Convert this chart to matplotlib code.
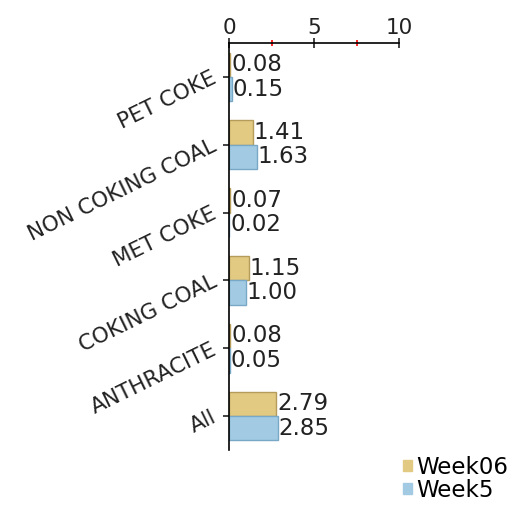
import numpy as np
import matplotlib.pyplot as plt
from matplotlib.patches import Patch

categories = ["PET COKE", "NON COKING COAL", "MET COKE", "COKING COAL", "ANTHRACITE", "All"]
week06 = [0.08, 1.41, 0.07, 1.15, 0.08, 2.79]
week5 = [0.15, 1.63, 0.02, 1.00, 0.05, 2.85]
series_names = ["Week06", "Week5"]

gold = "#E2CA82"
gold_edge = "#B59C5A"
blue = "#A2CBE3"
blue_edge = "#78A8C6"

fig = plt.figure(figsize=(5.17, 5.13), dpi=100)
ax = fig.add_axes([0.443, 0.123, 0.329, 0.793])

y = np.arange(len(categories))
h = 0.36
ax.barh(y - h / 2, week06, height=h, color=gold, edgecolor=gold_edge, linewidth=1)
ax.barh(y + h / 2, week5, height=h, color=blue, edgecolor=blue_edge, linewidth=1)

# value labels next to the bar ends
for i in range(len(categories)):
    ax.text(week06[i] + 0.05, y[i] - h / 2, f"{week06[i]:.2f}", va="center", ha="left",
            fontsize=16.5, color="#222222")
    ax.text(week5[i] + 0.05, y[i] + h / 2, f"{week5[i]:.2f}", va="center", ha="left",
            fontsize=16.5, color="#222222")

ax.set_xlim(0, 10)
ax.set_ylim(len(categories) - 0.5, -0.5)

ax.xaxis.tick_top()
ax.set_xticks([0, 5, 10])
ax.set_xticklabels(["0", "5", "10"], fontsize=15.5)
ax.set_xticks([2.5, 7.5], minor=True)
ax.tick_params(axis="x", which="major", direction="inout", length=7, width=1.2, pad=0, colors="#222222")
ax.tick_params(axis="x", which="minor", direction="inout", length=5, width=1.2, color="red")

ax.set_yticks(y)
ax.set_yticklabels(categories, rotation=26, fontsize=15.5, ha="right", va="center",
                   rotation_mode="anchor")
ax.tick_params(axis="y", direction="out", length=4, width=1.2, colors="#222222", pad=6)

for s in ["right", "bottom"]:
    ax.spines[s].set_visible(False)
ax.spines["top"].set_linewidth(1.2)
ax.spines["left"].set_linewidth(1.2)

handles = [Patch(facecolor=gold, edgecolor=gold), Patch(facecolor=blue, edgecolor=blue)]
fig.legend(handles, series_names, loc="lower right", bbox_to_anchor=(1.01, -0.005),
           fontsize=16.5, frameon=False, handlelength=0.4, handleheight=0.4,
           handletextpad=0.2, labelspacing=0.0, borderaxespad=0.2)

fig.savefig("out.png", dpi=100)
